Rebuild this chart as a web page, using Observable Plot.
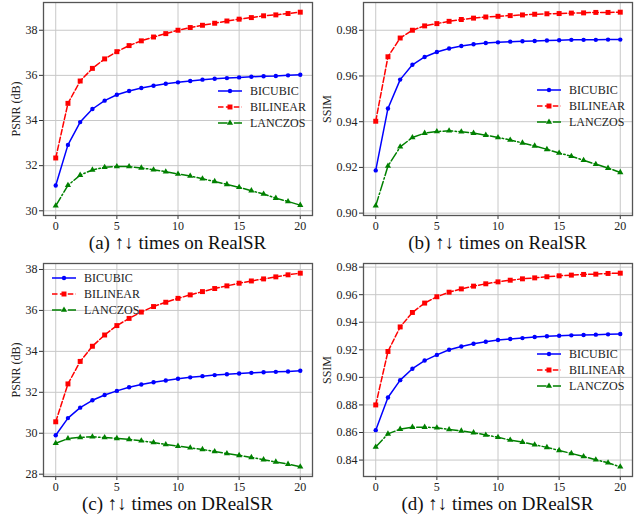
<!DOCTYPE html>
<html><head><meta charset="utf-8">
<script src="https://cdn.jsdelivr.net/npm/d3@7"></script>
<script src="https://cdn.jsdelivr.net/npm/@observablehq/plot@0.6"></script>
<style>
body{margin:0;background:#fff;}
#root{position:relative;width:640px;height:516px;overflow:hidden;font-family:"Liberation Serif","Times New Roman",serif;background:#fff;}
#root svg text{font-family:"Liberation Serif","Times New Roman",serif;}
.panel{position:absolute;}
.cap{position:absolute;text-align:center;font-size:19px;line-height:17px;height:17px;color:#111;white-space:nowrap;}
.leg{position:absolute;}
</style></head><body><div id="root"></div>
<script>
// ---- data ----
const steps = [0,1,2,3,4,5,6,7,8,9,10,11,12,13,14,15,16,17,18,19,20];
const methods = ["BICUBIC", "BILINEAR", "LANCZOS"];
const xTicks = [0,5,10,15,20];

const a_bicubic  = [31.12,32.92,33.93,34.51,34.88,35.14,35.31,35.44,35.54,35.63,35.69,35.75,35.81,35.85,35.88,35.91,35.94,35.96,35.97,36.00,36.03];
const a_bilinear = [32.34,34.76,35.75,36.31,36.73,37.05,37.32,37.53,37.70,37.85,38.00,38.12,38.22,38.31,38.41,38.49,38.56,38.64,38.68,38.74,38.80];
const a_lanczos  = [30.22,31.13,31.58,31.81,31.93,31.96,31.96,31.90,31.82,31.73,31.63,31.54,31.42,31.30,31.17,31.04,30.89,30.74,30.56,30.41,30.25];

const b_bicubic  = [0.9187,0.9458,0.9584,0.9649,0.9683,0.9705,0.9720,0.9731,0.9739,0.9744,0.9747,0.9750,0.9752,0.9753,0.9755,0.9756,0.9758,0.9758,0.9758,0.9759,0.9759];
const b_bilinear = [0.9402,0.9684,0.9766,0.9800,0.9819,0.9829,0.9839,0.9847,0.9853,0.9858,0.9861,0.9864,0.9867,0.9870,0.9872,0.9873,0.9875,0.9876,0.9878,0.9878,0.9879];
const b_lanczos  = [0.9032,0.9206,0.9290,0.9331,0.9350,0.9357,0.9360,0.9356,0.9350,0.9341,0.9331,0.9320,0.9307,0.9294,0.9279,0.9263,0.9249,0.9231,0.9214,0.9197,0.9178];

const c_bicubic  = [29.90,30.74,31.25,31.61,31.87,32.07,32.25,32.38,32.49,32.58,32.66,32.73,32.79,32.84,32.88,32.92,32.95,32.98,33.00,33.02,33.05];
const c_bilinear = [30.56,32.41,33.51,34.25,34.80,35.26,35.61,35.92,36.19,36.40,36.59,36.76,36.92,37.07,37.20,37.33,37.44,37.54,37.64,37.74,37.82];
const c_lanczos  = [29.51,29.74,29.80,29.83,29.79,29.75,29.70,29.63,29.55,29.45,29.37,29.29,29.21,29.11,29.01,28.92,28.82,28.71,28.60,28.49,28.36];

const d_bicubic  = [0.8617,0.8854,0.8980,0.9063,0.9122,0.9163,0.9200,0.9224,0.9244,0.9259,0.9271,0.9278,0.9285,0.9293,0.9298,0.9302,0.9305,0.9307,0.9310,0.9312,0.9315];
const d_bilinear = [0.8800,0.9188,0.9366,0.9471,0.9539,0.9585,0.9618,0.9642,0.9662,0.9679,0.9693,0.9705,0.9715,0.9722,0.9730,0.9737,0.9742,0.9747,0.9749,0.9754,0.9756];
const d_lanczos  = [0.8495,0.8590,0.8624,0.8639,0.8639,0.8634,0.8622,0.8612,0.8599,0.8582,0.8565,0.8545,0.8530,0.8511,0.8492,0.8470,0.8448,0.8426,0.8402,0.8380,0.8351];

const psnrTicksA = [30,32,34,36,38];
const ssimTicksB = [0.90,0.92,0.94,0.96,0.98];
const psnrTicksC = [28,30,32,34,36,38];
const ssimTicksD = [0.84,0.86,0.88,0.90,0.92,0.94,0.96,0.98];

const captions = ["(a) ↑↓ times on RealSR", "(b) ↑↓ times on RealSR", "(c) ↑↓ times on DRealSR", "(d) ↑↓ times on DRealSR"];

// ---- styles ----
const styles = {
  BICUBIC:  {color: "#0000ff", dash: null,              symbol: "circle",   r: 2.2},
  BILINEAR: {color: "#ff0000", dash: "5.5,2.4",         symbol: "square",   r: 2.8},
  LANCZOS:  {color: "#008000", dash: "9.6,2.4,1.5,2.4", symbol: "triangle", r: 2.3}
};

const root = document.getElementById("root");
const serif = "'Liberation Serif', 'Times New Roman', serif";

function panel({left, top, label, ticks, fmt, values, caption, legend, labelOffset}) {
  const rows = [];
  methods.forEach((m, k) => values[k].forEach((v, i) => rows.push({method: m, step: steps[i], value: v})));
  const [lo, hi] = d3.extent(rows, d => d.value);
  const pad = (hi - lo) * 0.05;
  const marks = [
    Plot.gridX(xTicks, {stroke: "#c8c8c8", strokeOpacity: 1, strokeWidth: 1}),
    Plot.gridY(ticks, {stroke: "#c8c8c8", strokeOpacity: 1, strokeWidth: 1}),
    Plot.axisX(xTicks, {tickSize: 4, tickPadding: 1.5, label: null, stroke: "#333", fontFamily: serif}),
    Plot.axisY(ticks, {tickSize: 4, tickPadding: 2, tickFormat: fmt, label, labelAnchor: "center", labelArrow: "none", labelOffset, stroke: "#333", fontFamily: serif})
  ];
  for (const m of methods) {
    const s = styles[m];
    const data = rows.filter(d => d.method === m);
    marks.push(Plot.line(data, {x: "step", y: "value", stroke: s.color, strokeWidth: 1.5, strokeDasharray: s.dash}));
    marks.push(Plot.dot(data, {x: "step", y: "value", symbol: s.symbol, r: s.r, fill: s.color, stroke: null}));
  }
  marks.push(Plot.frame({stroke: "#555", strokeWidth: 1.3}));
  const chart = Plot.plot({
    width: 320, height: 236,
    marginLeft: 43, marginRight: 8, marginTop: 2, marginBottom: 21,
    x: {domain: [-1, 21]},
    y: {domain: [lo - pad, hi + pad]},
    style: {fontFamily: serif, fontSize: "12px", color: "#222", background: "transparent"},
    marks
  });
  const wrap = document.createElement("div");
  wrap.className = "panel";
  wrap.style.left = left + "px";
  wrap.style.top = top + "px";
  wrap.appendChild(chart);
  root.appendChild(wrap);

  const cap = document.createElement("div");
  cap.className = "cap";
  cap.textContent = caption;
  cap.style.left = (left + 43) + "px";
  cap.style.width = "269px";
  cap.style.top = (top + 234) + "px";
  root.appendChild(cap);

  // legend
  const svg = d3.create("svg").attr("width", 110).attr("height", 50).attr("class", "leg")
    .style("left", legend[0] + "px").style("top", legend[1] + "px");
  methods.forEach((m, i) => {
    const s = styles[m];
    const y = 9 + i * 16;
    svg.append("line").attr("x1", 4).attr("x2", 28).attr("y1", y).attr("y2", y)
      .attr("stroke", s.color).attr("stroke-width", 1.5).attr("stroke-dasharray", s.dash);
    const sym = {circle: d3.symbolCircle, square: d3.symbolSquare, triangle: d3.symbolTriangle}[s.symbol];
    svg.append("path").attr("d", d3.symbol(sym, s.r * s.r * Math.PI)()).attr("transform", `translate(16,${y})`).attr("fill", s.color);
    svg.append("text").attr("x", 36).attr("y", y).attr("dy", "0.35em").attr("fill", "#222")
      .attr("font-family", serif).style("font-size", "12px").text(m);
  });
  root.appendChild(svg.node());
}

const f2 = d3.format(".2f");
panel({left: 0,   top: 0,   label: "PSNR (dB)", ticks: psnrTicksA, fmt: d => d, values: [a_bicubic, a_bilinear, a_lanczos], caption: captions[0], legend: [214, 82], labelOffset: 32});
panel({left: 320, top: 0,   label: "SSIM",      ticks: ssimTicksB, fmt: f2,     values: [b_bicubic, b_bilinear, b_lanczos], caption: captions[1], legend: [533, 81], labelOffset: 41});
panel({left: 0,   top: 261, label: "PSNR (dB)", ticks: psnrTicksC, fmt: d => d, values: [c_bicubic, c_bilinear, c_lanczos], caption: captions[2], legend: [48, 269], labelOffset: 32});
panel({left: 320, top: 261, label: "SSIM",      ticks: ssimTicksD, fmt: f2,     values: [d_bicubic, d_bilinear, d_lanczos], caption: captions[3], legend: [533, 345], labelOffset: 41});
</script>
</body></html>
